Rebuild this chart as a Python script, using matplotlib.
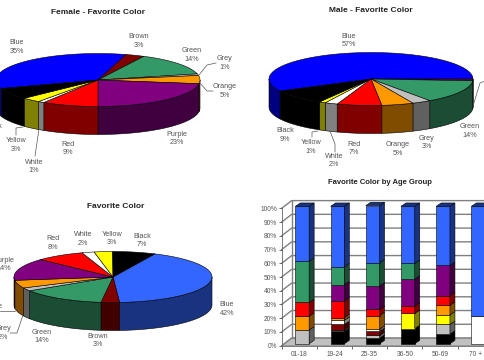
# Favorite colour survey, three 3D pies and a stacked 3D bar chart.

import numpy as np
import matplotlib
matplotlib.use('Agg')
import matplotlib.pyplot as plt
from matplotlib.patches import Polygon

plt.rcParams['font.family'] = ['Liberation Sans', 'DejaVu Sans']

topColors = {'Blue': '#0000ff', 'Brown': '#800000', 'Green': '#339966', 'Grey': '#c0c0c0',
	'Orange': '#ff9900', 'Purple': '#800080', 'Red': '#ff0000', 'White': '#ffffff',
	'Yellow': '#ffff00', 'Black': '#000000', 'LightBlue': '#3366ff'}
textColor = '#555555'

# slices run clockwise, starting at blue
femaleNames = ['Blue', 'Brown', 'Green', 'Grey', 'Orange', 'Purple', 'Red', 'White', 'Yellow', 'Black']
femaleValues = [35, 3, 14, 1, 5, 23, 9, 1, 3, 7]
maleNames = ['Blue', 'Brown', 'Green', 'Grey', 'Orange', 'Red', 'White', 'Yellow', 'Black']
maleValues = [57, 1, 14, 3, 5, 7, 2, 1, 9]
allNames = ['Blue', 'Brown', 'Green', 'Grey', 'Orange', 'Purple', 'Red', 'White', 'Yellow', 'Black']
allValues = [42, 3, 14, 2, 5, 14, 8, 2, 3, 7]

ageGroups = ['01-18', '19-24', '25-35', '36-50', '50-69', '70 +']
# stacked bottom to top
stackNames = ['Black', 'Grey', 'Brown', 'White', 'Yellow', 'Orange', 'Red', 'Purple', 'Green', 'LightBlue']
ageBlack = [0, 9, 4, 11, 7, 0]
ageGrey = [10, 1, 2, 0, 7, 0]
ageBrown = [0, 4, 3, 0, 0, 0]
ageWhite = [0, 3, 1.5, 0, 0, 20]
ageYellow = [0, 0, 0, 11, 7, 0]
ageOrange = [10, 2, 10, 0, 7, 0]
ageRed = [10, 12, 4.5, 5.5, 7, 0]
agePurple = [0, 12, 17, 19.5, 22, 0]
ageGreen = [30, 13, 17, 11.5, 0, 0]
ageBlue = [40, 44, 41.5, 41.5, 43, 80]
ageStacks = [ageBlack, ageGrey, ageBrown, ageWhite, ageYellow, ageOrange, ageRed, agePurple, ageGreen, ageBlue]
yTicks = list(range(0, 101, 10))


def darker(color):
	rgb = np.array(matplotlib.colors.to_rgb(color))
	if rgb.min() == rgb.max() and rgb.min() > 0.9:
		return '#808080'
	return tuple(rgb * 0.5)


def rim(cx, cy, rx, ry, angles):
	rad = np.radians(angles)
	return np.column_stack([cx + rx * np.cos(rad), cy - ry * np.sin(rad)])


def pie3d(ax, cx, cy, rx, ry, depth, start, names, values, blueName='Blue'):
	''' Slices go clockwise from start, angles are on the ellipse. '''
	sweeps = np.array(values) / sum(values) * 360
	angle = start
	for name, sweep in zip(names, sweeps):
		key = blueName if name == 'Blue' else name
		a1, a2 = angle - sweep, angle
		# the wall is only seen on the front half
		for low, high in [(180, 360), (-180, 0)]:
			lo, hi = max(a1, low), min(a2, high)
			if hi > lo:
				arc = rim(cx, cy, rx, ry, np.linspace(lo, hi, 40))
				wall = np.vstack([arc, (arc + [0, depth])[::-1]])
				ax.add_patch(Polygon(wall, closed=True, fc=darker(topColors[key]), ec='black', lw=0.4))
		arc = rim(cx, cy, rx, ry, np.linspace(a1, a2, 60))
		face = np.vstack([[cx, cy], arc])
		ax.add_patch(Polygon(face, closed=True, fc=topColors[key], ec='black', lw=0.4))
		angle -= sweep


def label(ax, x, y, name, pct):
	ax.text(x, y, name, ha='center', va='center', fontsize=5.2, color=textColor)
	ax.text(x, y + 8.6, pct, ha='center', va='center', fontsize=5.2, color=textColor)


def leader(ax, xs, ys):
	ax.plot(xs, ys, color='#555555', lw=0.5)


fig = plt.figure(figsize=(4.85, 3.6), dpi=100)
canvas = fig.add_axes([0, 0, 1, 1])
canvas.set_xlim(0, 485)
canvas.set_ylim(360, 0)
canvas.axis('off')

# female pie
pie3d(canvas, 98, 80, 102, 26.5, 28, 198.7, femaleNames, femaleValues)
canvas.text(98, 12.5, 'Female - Favorite Color', ha='center', va='center', fontsize=6, fontweight='bold', color='#222222')
femaleLabels = [(17, 43, 'Blue'), (139, 37, 'Brown'), (192, 51, 'Green'), (225, 59, 'Grey'), (225, 87, 'Orange'),
	(177, 134, 'Purple'), (68, 144, 'Red'), (34, 162, 'White'), (16, 141, 'Yellow'), (-7, 127, 'Black')]
for (x, y, name) in femaleLabels:
	label(canvas, x, y, name, '%d%%' % femaleValues[femaleNames.index(name)])
leader(canvas, [199, 207, 216], [75, 65, 63])
leader(canvas, [200, 207, 213], [83, 91, 91])
leader(canvas, [23, 16, 16], [127, 128, 135])
leader(canvas, [39, 35], [129, 156])

# male pie
pie3d(canvas, 371, 79, 102, 26.5, 28, 207, maleNames, maleValues)
canvas.text(371, 11, 'Male - Favorite Color', ha='center', va='center', fontsize=6, fontweight='bold', color='#222222')
maleLabels = [(349, 36, 'Blue'), (285, 131, 'Black'), (311, 143, 'Yellow'), (334, 156, 'White'), (354, 144, 'Red'),
	(398, 145, 'Orange'), (427, 138, 'Grey'), (470, 127, 'Green')]
for (x, y, name) in maleLabels:
	label(canvas, x, y, name, '%d%%' % maleValues[maleNames.index(name)])
leader(canvas, [318, 312, 312], [131, 132, 137])
leader(canvas, [330, 335, 335], [131, 144, 152])
leader(canvas, [473, 480, 485], [106, 83, 81])

# overall pie
pie3d(canvas, 113, 277, 99, 25.5, 28, 65, allNames, allValues, blueName='LightBlue')
canvas.text(116, 207, 'Favorite Color', ha='center', va='center', fontsize=6, fontweight='bold', color='#222222')
allLabels = [(53, 239, 'Red'), (83, 235, 'White'), (112, 234, 'Yellow'), (142, 236, 'Black'), (227, 305, 'Blue'),
	(98, 336, 'Brown'), (42, 332, 'Green'), (3, 329, 'Grey'), (-9, 307, 'Orange'), (4, 260, 'Purple')]
for (x, y, name) in allLabels:
	label(canvas, x, y, name, '%d%%' % allValues[allNames.index(name)])
leader(canvas, [15, 0], [311, 311])
leader(canvas, [23, 17, 10], [315, 333, 333])

# stacked bars, with the depth faked by offsets from the front plane
barAx = fig.add_axes([281.7 / 485, 1 - 345.7 / 360, 203.3 / 485, 137.4 / 360])
barAx.set_xlim(-0.5, 5.276)
barAx.set_ylim(0, 100)
barAx.patch.set_visible(False)
wallDx, wallDy = 0.284, 5.6
barDx, barDy = 0.142, 2.43
shiftX, shiftY = 0.085, 1.46
barWidth = 0.39
rightEdge = 5.276

floor = [(-0.5, 0), (-0.5 + wallDx, wallDy), (rightEdge, wallDy), (rightEdge, 0)]
barAx.add_patch(Polygon(floor, closed=True, fc='#c0c0c0', ec='#808080', lw=0.5, clip_on=False))
for tick in yTicks:
	barAx.plot([-0.5, -0.5 + wallDx, rightEdge], [tick, tick + wallDy, tick + wallDy], color='#808080', lw=1.0, clip_on=False, zorder=1)
barAx.plot([-0.5 + wallDx, -0.5 + wallDx], [wallDy, 100 + wallDy], color='#808080', lw=1.0, clip_on=False, zorder=1)

for i in range(len(ageGroups)):
	base = shiftY
	left = i - barWidth / 2 + shiftX
	right = left + barWidth
	for name, stack in zip(stackNames, ageStacks):
		value = stack[i]
		if value == 0:
			continue
		barAx.bar(left, value, width=barWidth, bottom=base, align='edge', color=topColors[name],
			edgecolor='black', linewidth=0.4, clip_on=False, zorder=3)
		side = [(right, base), (right + barDx, base + barDy), (right + barDx, base + value + barDy), (right, base + value)]
		barAx.add_patch(Polygon(side, closed=True, fc=darker(topColors[name]), ec='black', lw=0.4, clip_on=False, zorder=3))
		base += value
	top = [(left, base), (left + barDx, base + barDy), (right + barDx, base + barDy), (right, base)]
	barAx.add_patch(Polygon(top, closed=True, fc=darker(topColors['LightBlue']), ec='black', lw=0.4, clip_on=False, zorder=3))

barAx.set_yticks(yTicks)
barAx.set_yticklabels(['%d%%' % t for t in yTicks])
barAx.set_xticks(np.arange(-0.5, 5.2, 1))
barAx.set_xticklabels([])
barAx.set_xticks(np.arange(len(ageGroups)), minor=True)
barAx.set_xticklabels(ageGroups, minor=True)
barAx.tick_params(axis='x', which='major', length=2.5, width=0.6, color='#555555')
barAx.tick_params(axis='x', which='minor', length=0, labelsize=4.8, labelcolor=textColor, pad=4)
barAx.tick_params(axis='y', length=2.5, width=0.6, color='#555555', labelsize=4.8, labelcolor=textColor, pad=1)
for spine in ['top', 'right']:
	barAx.spines[spine].set_visible(False)
for spine in ['left', 'bottom']:
	barAx.spines[spine].set_color('#666666')
	barAx.spines[spine].set_linewidth(0.6)
canvas.text(380, 183, 'Favorite Color by Age Group', ha='center', va='center', fontsize=5.5, fontweight='bold', color='#222222')

fig.savefig('out.png', dpi=100)
